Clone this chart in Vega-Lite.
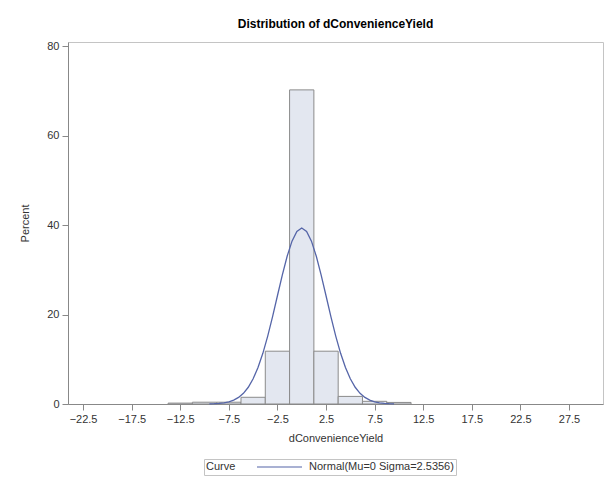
{
  "$schema": "https://vega.github.io/schema/vega-lite/v6.json",
  "width": 535,
  "height": 362,
  "autosize": "none",
  "padding": {"left": 68, "top": 42, "right": 7, "bottom": 79},
  "background": "white",
  "title": {"text": "Distribution of dConvenienceYield", "font": "Liberation Sans", "fontSize": 12, "fontWeight": "bold", "color": "#000", "offset": 9, "anchor": "middle"},
  "config": {
    "view": {"stroke": "#c4c4c4", "strokeWidth": 1},
    "axis": {"labelFont": "Liberation Sans", "labelFontSize": 11, "labelColor": "#333", "titleFont": "Liberation Sans", "titleFontSize": 11, "titleFontWeight": "normal", "titleColor": "#333", "domainColor": "#888", "tickColor": "#888", "tickSize": 6, "grid": false}
  },
  "datasets": {
    "bars": [
      {"start": -13.75, "end": -11.25, "pct": 0.2},
      {"start": -11.25, "end": -8.75, "pct": 0.4},
      {"start": -8.75, "end": -6.25, "pct": 0.4},
      {"start": -6.25, "end": -3.75, "pct": 1.5},
      {"start": -3.75, "end": -1.25, "pct": 11.8},
      {"start": -1.25, "end": 1.25, "pct": 70.2},
      {"start": 1.25, "end": 3.75, "pct": 11.8},
      {"start": 3.75, "end": 6.25, "pct": 1.7},
      {"start": 6.25, "end": 8.75, "pct": 0.6},
      {"start": 8.75, "end": 11.25, "pct": 0.35}
    ],
    "curve": [
      {"x": -9.5, "y": 0.035}, {"x": -9, "y": 0.072}, {"x": -8.5, "y": 0.14}, {"x": -8, "y": 0.27},
      {"x": -7.5, "y": 0.50}, {"x": -7, "y": 0.87}, {"x": -6.5, "y": 1.47}, {"x": -6, "y": 2.39},
      {"x": -5.5, "y": 3.74}, {"x": -5, "y": 5.63}, {"x": -4.5, "y": 8.14}, {"x": -4, "y": 11.33},
      {"x": -3.5, "y": 15.17}, {"x": -3, "y": 19.54}, {"x": -2.5, "y": 24.19}, {"x": -2, "y": 28.82},
      {"x": -1.5, "y": 33.02}, {"x": -1, "y": 36.39}, {"x": -0.5, "y": 38.58}, {"x": 0, "y": 39.34},
      {"x": 0.5, "y": 38.58}, {"x": 1, "y": 36.39}, {"x": 1.5, "y": 33.02}, {"x": 2, "y": 28.82},
      {"x": 2.5, "y": 24.19}, {"x": 3, "y": 19.54}, {"x": 3.5, "y": 15.17}, {"x": 4, "y": 11.33},
      {"x": 4.5, "y": 8.14}, {"x": 5, "y": 5.63}, {"x": 5.5, "y": 3.74}, {"x": 6, "y": 2.39},
      {"x": 6.5, "y": 1.47}, {"x": 7, "y": 0.87}, {"x": 7.5, "y": 0.50}, {"x": 8, "y": 0.27},
      {"x": 8.5, "y": 0.14}, {"x": 9, "y": 0.072}, {"x": 9.5, "y": 0.035}
    ]
  },
  "layer": [
    {
      "data": {"name": "bars"},
      "mark": {"type": "rect", "fill": "#e3e7f0", "stroke": "#8a8a8a", "strokeWidth": 1},
      "encoding": {
        "x": {"field": "start", "type": "quantitative", "scale": {"domain": [-24.05, 31.0], "nice": false, "zero": false},
              "axis": {"values": [-22.5, -17.5, -12.5, -7.5, -2.5, 2.5, 7.5, 12.5, 17.5, 22.5, 27.5], "format": ".1f", "title": "dConvenienceYield", "labelPadding": 3, "titlePadding": 8}},
        "x2": {"field": "end"},
        "y": {"field": "pct", "type": "quantitative", "scale": {"domain": [0, 80.9], "nice": false},
              "axis": {"values": [0, 20, 40, 60, 80], "title": "Percent", "labelPadding": 3, "titlePadding": 16}},
        "y2": {"datum": 0}
      }
    },
    {
      "data": {"name": "curve"},
      "transform": [{"calculate": "'Normal(Mu=0 Sigma=2.5356)'", "as": "series"}],
      "mark": {"type": "line", "strokeWidth": 1.3},
      "encoding": {
        "x": {"field": "x", "type": "quantitative"},
        "y": {"field": "y", "type": "quantitative"},
        "color": {"field": "series", "type": "nominal", "scale": {"range": ["#5565a8"]},
                  "legend": {"title": "Curve", "orient": "none", "legendX": 136, "legendY": 417, "titleOrient": "left", "direction": "horizontal",
                             "symbolType": "stroke", "symbolSize": 2025, "symbolStrokeWidth": 1.2, "clipHeight": 12, "strokeColor": "#c4c4c4", "padding": 2,
                             "titleFont": "Liberation Sans", "titleFontSize": 11, "titleFontWeight": "normal", "titleColor": "#333", "titlePadding": 20,
                             "labelFont": "Liberation Sans", "labelFontSize": 11, "labelColor": "#333", "labelOffset": 6, "titleBaseline": "middle", "titleAnchor": "middle"}}
      }
    }
  ]
}
